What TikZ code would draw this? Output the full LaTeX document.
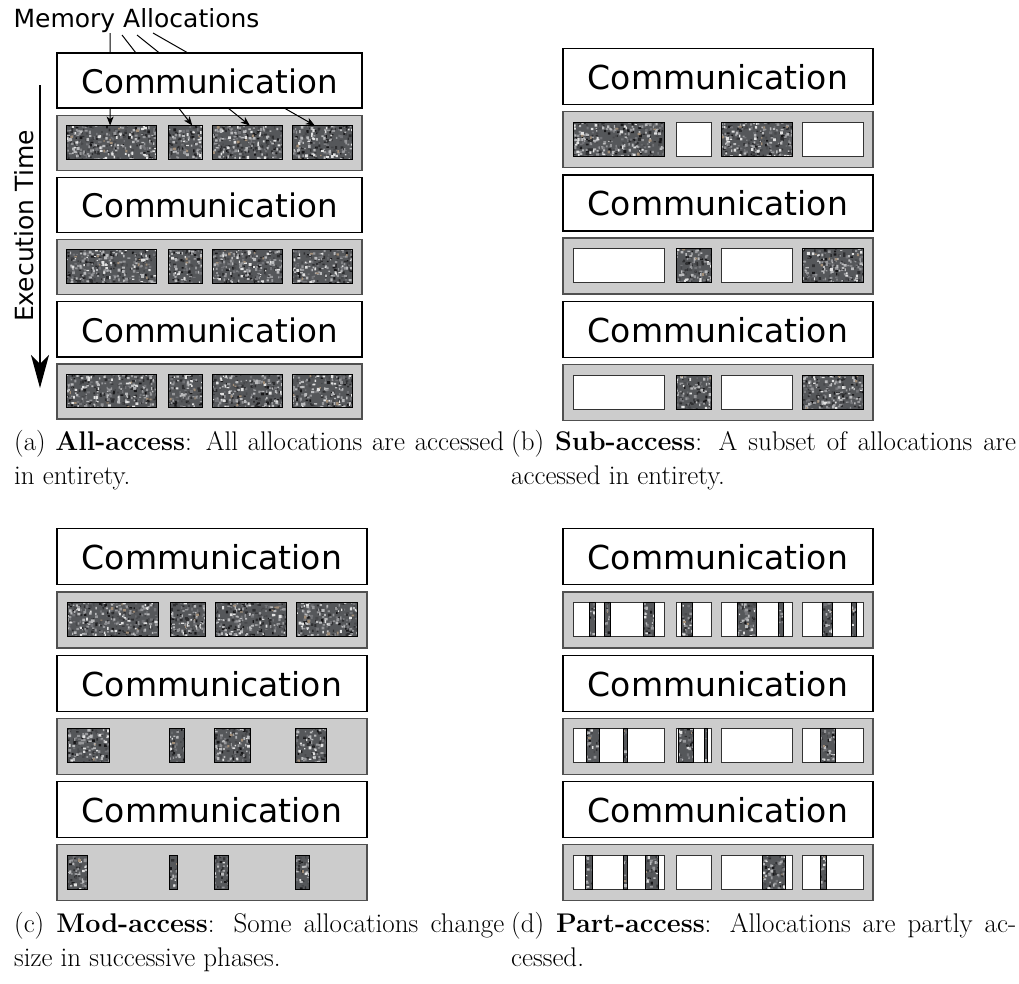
\documentclass[tikz,border=0pt]{standalone}
\usepackage{fontspec}
\newfontfamily\dvs{DejaVu Sans}
\usetikzlibrary{arrows.meta}
\definecolor{rowgray}{HTML}{CCCCCC}
\definecolor{rowedge}{HTML}{505050}
\definecolor{granbase}{HTML}{55575A}
\definecolor{g0}{HTML}{18181A}
\definecolor{g1}{HTML}{2E2F31}
\definecolor{g2}{HTML}{47484B}
\definecolor{g3}{HTML}{727377}
\definecolor{g4}{HTML}{96979A}
\definecolor{g5}{HTML}{B9BABC}
\definecolor{g6}{HTML}{E2E2E2}
\definecolor{g7}{HTML}{A08D78}
\tikzset{
  commbox/.style={draw=black, fill=white, line width=1.3pt},
  rowbox/.style={draw=rowedge, fill=rowgray, line width=1.3pt},
  blockedge/.style={draw=black, line width=0.9pt},
  whiteblock/.style={draw=black!80, fill=white, line width=0.9pt},
  commtext/.style={anchor=base, inner sep=0pt},
  labeltext/.style={font=\dvs\fontsize{25}{30}\selectfont, inner sep=0pt},
  memarrow/.style={draw=black, line width=1pt, -{Stealth[length=9pt,width=7pt,inset=2.5pt]}},
  execarrow/.style={draw=black, line width=1.6pt, -{Stealth[length=33pt,width=18pt,inset=9pt]}},
  captext/.style={font=\fontsize{27}{34}\selectfont, align=left, inner sep=0pt, anchor=north west}
}
\newcommand\granite[4]{%
  \fill[granbase] (#1,#2) rectangle (#3,#4);
  \begin{scope}
    \clip (#1,#2) rectangle (#3,#4);
    \pgfmathsetmacro\gw{#3-#1}%
    \pgfmathsetmacro\gh{#4-#2}%
    \foreach \c/\f in {0/0.8,1/1.0,2/0.8,3/1.0,4/1.1,5/1.0,6/0.6,7/0.15}{%
      \pgfmathtruncatemacro\gn{max(1,\gw*\gh*\f/56)}%
      \fill[g\c] \foreach \k in {1,...,\gn}{%
        ({#1-2.5+rnd*(\gw+2.5)},{#2-2.5+rnd*(\gh+2.5)}) rectangle ++({1.1+2.0*rnd},{1.1+2.0*rnd})};
    }%
  \end{scope}
  \draw[blockedge] (#1,#2) rectangle (#3,#4);
}
\newcommand\G[3]{%
  \pgfmathsetmacro\ya{73.7+126.4*#3}%
  \pgfmathsetmacro\yb{\ya+34}%
  \granite{#1}{\ya}{#2}{\yb}}
\newcommand\W[3]{%
  \pgfmathsetmacro\ya{73.7+126.4*#3}%
  \draw[whiteblock] (#1,\ya) rectangle (#2,\ya+34);}
\newcommand\panelrows{%
  \foreach \r in {0,1,2}{%
    \draw[rowbox] (0,63.2+126.4*\r) rectangle (310,119.2+126.4*\r);
  }}
\newcommand\panelcomms[2]{%
  \foreach \r in {0,1,2}{%
    \draw[commbox] (0,126.4*\r) rectangle (310,56+126.4*\r);
    \node[commtext, font=\dvs\fontsize{#2}{#2}\selectfont] (#1c\r) at (155,41+126.4*\r) {Communication};
  }}
\begin{document}
\begin{tikzpicture}[x=1pt,y=-1pt]
\pgfmathsetseed{4242}
\useasboundingbox (0,0) rectangle (1019,983);
% ---------- panel (a)
\begin{scope}[shift={(57,53)}, scale=0.984]
  \panelrows
  \foreach \r in {0,1,2}{\G{10}{101}{\r}\G{113}{148}{\r}\G{158}{229}{\r}\G{239}{300}{\r}}
  \coordinate (t1) at (54,73.7);
  \coordinate (t2) at (137.5,73.7);
  \coordinate (t3) at (196,73.7);
  \coordinate (t4) at (262,73.7);
\end{scope}
\node[labeltext, anchor=base] (memlabel) at (136.5,27) {Memory Allocations};
\coordinate (m1) at (110,33);
\coordinate (m2) at (122,35);
\coordinate (m3) at (137,35);
\coordinate (m4) at (153,33);
\draw[memarrow] (m1) -- (t1);
\draw[memarrow] (m2) -- (t2);
\draw[memarrow] (m3) -- (t3);
\draw[memarrow] (m4) -- (t4);
\begin{scope}[shift={(57,53)}, scale=0.984]
  \panelcomms{a}{32.5}
\end{scope}
\node[labeltext, anchor=base, rotate=90] (execlabel) at (33,226) {Execution Time};
\coordinate (e1) at (40,85);
\coordinate (e2) at (40,388);
\draw[execarrow] (e1) -- (e2);
% ---------- panel (b)
\begin{scope}[shift={(563,48.5)}]
  \panelrows
  \G{10}{101}{0}\W{113}{148}{0}\G{158}{229}{0}\W{239}{300}{0}
  \foreach \r in {1,2}{\W{10}{101}{\r}\G{113}{148}{\r}\W{158}{229}{\r}\G{239}{300}{\r}}
  \panelcomms{b}{33}
\end{scope}
% ---------- panel (c)
\begin{scope}[shift={(57,528.8)}]
  \panelrows
  \G{10}{101}{0}\G{113}{148}{0}\G{158}{229}{0}\G{239}{300}{0}
  \G{10}{52}{1}\G{112.5}{127}{1}\G{157.5}{193}{1}\G{238.5}{269}{1}
  \G{10}{30}{2}\G{112.5}{120.5}{2}\G{157.5}{171}{2}\G{238.5}{252}{2}
  \panelcomms{c}{33}
\end{scope}
% ---------- panel (d)
\begin{scope}[shift={(563,528.8)}]
  \panelrows
  \foreach \r in {0,1,2}{\W{10}{101}{\r}\W{113}{148}{\r}\W{158}{229}{\r}\W{239}{300}{\r}}
  \G{26}{32}{0}\G{41}{47}{0}\G{80}{91}{0}\G{118}{129}{0}\G{174}{193}{0}\G{215}{220}{0}\G{259}{269}{0}\G{288}{293}{0}
  \G{23}{36}{1}\G{60}{64}{1}\G{115}{130}{1}\G{141}{144}{1}\G{257}{272}{1}
  \G{22}{29}{2}\G{60}{64}{2}\G{82}{95}{2}\G{199}{222}{2}\G{257}{263}{2}
  \panelcomms{d}{33}
\end{scope}
% ---------- captions
\node[captext] (capa) at (14,429.8) {\makebox[490pt][s]{(a) \textbf{All-access}: All allocations are accessed}\\in entirety.};
\node[captext] (capb) at (511,429.8) {\makebox[505pt][s]{(b) \textbf{Sub-access}: A subset of allocations are}\\accessed in entirety.};
\node[captext] (capc) at (14,911.8) {\makebox[490pt][s]{(c) \textbf{Mod-access}: Some allocations change}\\size in successive phases.};
\node[captext] (capd) at (511,911.8) {\makebox[505pt][s]{(d) \textbf{Part-access}: Allocations are partly ac-}\\cessed.};
\end{tikzpicture}
\end{document}
